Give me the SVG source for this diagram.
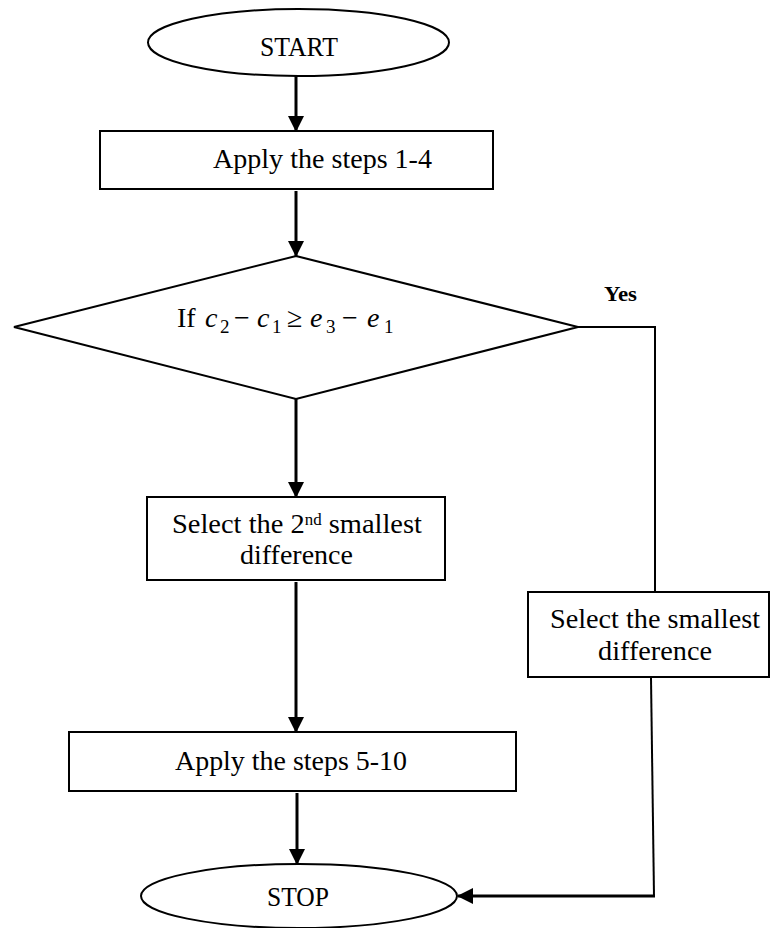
<svg xmlns="http://www.w3.org/2000/svg" width="770" height="928" viewBox="0 0 770 928">
<defs>
<style>
.shape{fill:#fff;stroke:#000;stroke-width:2}
.t{font-family:"Liberation Serif","DejaVu Serif",serif;font-size:27px;fill:#000}
.m{font-family:"Liberation Serif","DejaVu Serif",serif;font-size:28px;fill:#000}
.i{font-style:italic}
.sub{font-size:19px}
.yes{font-family:"Liberation Serif","DejaVu Serif",serif;font-size:20px;font-weight:bold;fill:#000}
.thick{fill:none;stroke:#000;stroke-width:3}
.thin{fill:none;stroke:#000;stroke-width:2}
</style>
<marker id="ah" viewBox="0 0 16 16" refX="15" refY="8" markerWidth="16" markerHeight="16" markerUnits="userSpaceOnUse" orient="auto">
<path d="M0,0 L16,8 L0,16 Z" fill="#000"/>
</marker>
</defs>
<rect width="770" height="928" fill="#fff"/>

<g id="start">
<ellipse class="shape" cx="298.5" cy="42.5" rx="150.5" ry="33.5"/>
<text class="t" x="260" y="56" textLength="78" lengthAdjust="spacingAndGlyphs">START</text>
</g>

<g id="step1">
<rect class="shape" x="100" y="131" width="393" height="58"/>
<text class="t" x="213" y="168" textLength="219" lengthAdjust="spacingAndGlyphs">Apply the steps 1-4</text>
</g>

<g id="decision">
<polygon class="shape" points="296,256 578,327 296,399 14,327"/>
<text class="m" y="327">
<tspan x="177">If</tspan>
<tspan class="i" x="205">c</tspan><tspan class="sub" x="220" y="333">2</tspan>
<tspan x="234" y="327">−</tspan>
<tspan class="i" x="257">c</tspan><tspan class="sub" x="272" y="333">1</tspan>
<tspan x="287" y="327">≥</tspan>
<tspan class="i" x="310">e</tspan><tspan class="sub" x="326" y="333">3</tspan>
<tspan x="342" y="327">−</tspan>
<tspan class="i" x="367">e</tspan><tspan class="sub" x="384" y="333">1</tspan>
</text>
</g>

<g id="select2nd">
<rect class="shape" x="147" y="497" width="298" height="83"/>
<text class="t" x="172" y="533" textLength="250" lengthAdjust="spacingAndGlyphs">Select the 2<tspan font-size="16" baseline-shift="super">nd</tspan> smallest</text>
<text class="t" x="240" y="564" textLength="113" lengthAdjust="spacingAndGlyphs">difference</text>
</g>

<g id="step2">
<rect class="shape" x="69" y="732" width="447" height="59"/>
<text class="t" x="175" y="770" textLength="232" lengthAdjust="spacingAndGlyphs">Apply the steps 5-10</text>
</g>

<g id="selectSmallest">
<rect class="shape" x="528" y="592" width="241" height="85"/>
<text class="t" x="550" y="628" textLength="210" lengthAdjust="spacingAndGlyphs">Select the smallest</text>
<text class="t" x="598" y="660" textLength="114" lengthAdjust="spacingAndGlyphs">difference</text>
</g>

<g id="stop">
<ellipse class="shape" cx="299" cy="896" rx="158" ry="32"/>
<text class="t" x="267" y="906" textLength="62" lengthAdjust="spacingAndGlyphs">STOP</text>
</g>

<g id="connectors">
<line class="thick" x1="296" y1="76" x2="296" y2="131" marker-end="url(#ah)"/>
<line class="thick" x1="296" y1="191" x2="296" y2="256" marker-end="url(#ah)"/>
<line class="thick" x1="296" y1="399" x2="296" y2="497" marker-end="url(#ah)"/>
<line class="thick" x1="296" y1="582" x2="296" y2="732" marker-end="url(#ah)"/>
<line class="thick" x1="297" y1="793" x2="297" y2="864" marker-end="url(#ah)"/>
<polyline class="thin" points="578,327 655,327 655,592"/>
<polyline class="thin" points="651,678 654,896"/>
<line class="thick" x1="655" y1="896" x2="458" y2="896" marker-end="url(#ah)"/>
<text class="yes" x="604" y="301" textLength="33" lengthAdjust="spacingAndGlyphs">Yes</text>
</g>
</svg>
